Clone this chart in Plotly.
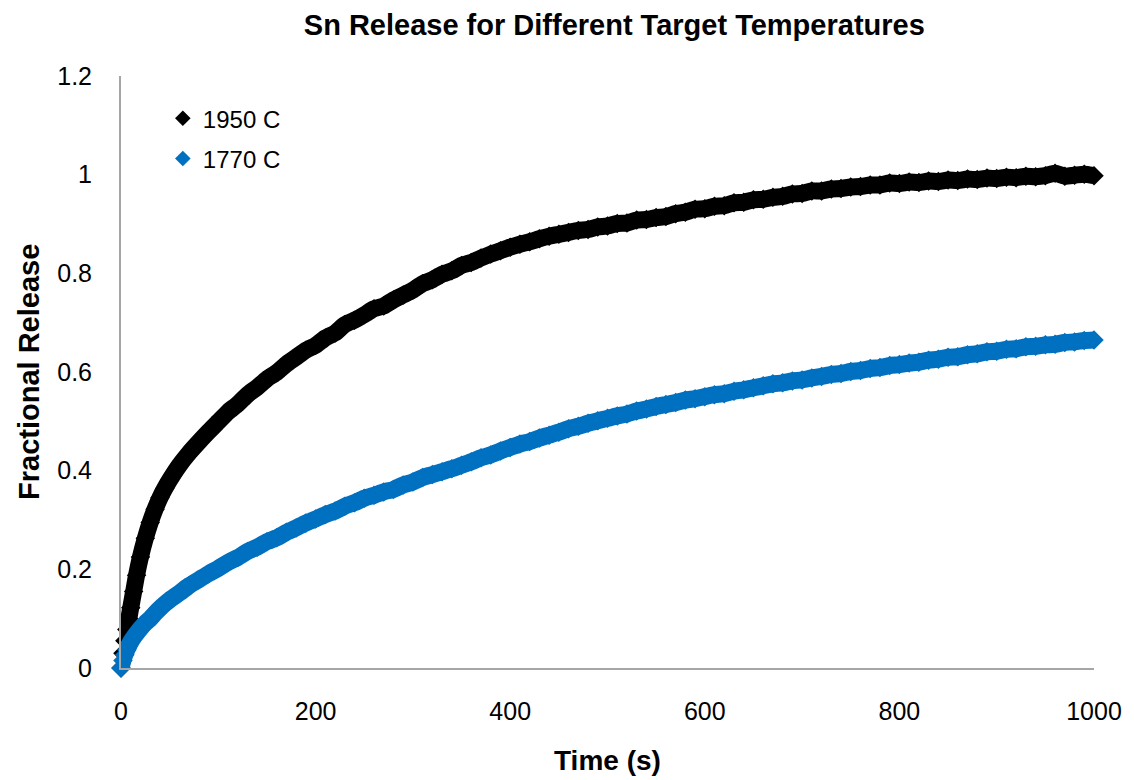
import plotly.graph_objects as go

# Time axis (s): finer sampling at the steep start, then every 10 s
time_s = [0, 2, 4, 6, 8, 10, 13, 16, 20, 25, 30, 35, 40, 45, 50] + list(range(60, 1001, 10))

# Fractional release, 1950 C
release_1950 = [
    0.000, 0.030, 0.055, 0.078, 0.100, 0.122, 0.155, 0.188, 0.225, 0.263, 0.295, 0.322, 0.345, 0.364, 0.381,
    0.411, 0.436, 0.458, 0.479, 0.499, 0.519, 0.535, 0.554, 0.569, 0.586,
    0.599, 0.616, 0.630, 0.644, 0.654, 0.669, 0.679, 0.696, 0.705, 0.716,
    0.728, 0.734, 0.746, 0.756, 0.766, 0.779, 0.787, 0.798, 0.805, 0.816,
    0.822, 0.831, 0.839, 0.846, 0.853, 0.859, 0.864, 0.870, 0.875, 0.879,
    0.883, 0.887, 0.889, 0.894, 0.896, 0.901, 0.902, 0.908, 0.909, 0.913,
    0.915, 0.921, 0.924, 0.930, 0.931, 0.936, 0.937, 0.943, 0.944, 0.949,
    0.950, 0.954, 0.956, 0.961, 0.962, 0.967, 0.967, 0.971, 0.972, 0.975,
    0.976, 0.979, 0.979, 0.983, 0.982, 0.985, 0.984, 0.987, 0.986, 0.989,
    0.988, 0.991, 0.990, 0.993, 0.992, 0.995, 0.994, 0.997, 0.996, 0.998,
    1.003, 0.997, 0.999, 1.001, 0.998,
]

# Fractional release, 1770 C
release_1770 = [
    0.000, 0.015, 0.027, 0.037, 0.045, 0.053, 0.062, 0.070, 0.080, 0.091, 0.100, 0.111, 0.121, 0.130, 0.138,
    0.152, 0.167, 0.179, 0.191, 0.202, 0.214, 0.224, 0.236, 0.245, 0.256,
    0.264, 0.275, 0.284, 0.294, 0.302, 0.311, 0.318, 0.328, 0.335, 0.344,
    0.350, 0.357, 0.362, 0.371, 0.377, 0.386, 0.392, 0.398, 0.404, 0.411,
    0.418, 0.426, 0.432, 0.440, 0.447, 0.454, 0.459, 0.466, 0.472, 0.478,
    0.485, 0.490, 0.496, 0.501, 0.506, 0.511, 0.515, 0.521, 0.525, 0.530,
    0.534, 0.538, 0.543, 0.546, 0.550, 0.554, 0.556, 0.561, 0.564, 0.568,
    0.572, 0.576, 0.578, 0.582, 0.584, 0.588, 0.591, 0.595, 0.597, 0.601,
    0.603, 0.607, 0.609, 0.613, 0.615, 0.618, 0.620, 0.624, 0.626, 0.630,
    0.631, 0.635, 0.637, 0.641, 0.642, 0.646, 0.647, 0.651, 0.652, 0.655,
    0.656, 0.660, 0.661, 0.664, 0.665,
]

series_names = ["1950 C", "1770 C"]
series_colors = ["#000000", "#0070C0"]
series_values = [release_1950, release_1770]

x_ticks = [0, 200, 400, 600, 800, 1000]
y_ticks = [0, 0.2, 0.4, 0.6, 0.8, 1, 1.2]
y_tick_labels = ["0", "0.2", "0.4", "0.6", "0.8", "1", "1.2"]

FONT = "Arial, 'Liberation Sans', sans-serif"

fig = go.Figure()
for name, color, vals in zip(series_names, series_colors, series_values):
    # thick band under the markers (the dense data forms a continuous band)
    fig.add_trace(go.Scatter(
        x=time_s, y=vals, mode="lines",
        line=dict(color=color, width=17, shape="spline", smoothing=0.6),
        showlegend=False, hoverinfo="skip", legendgroup=name,
        cliponaxis=False,
    ))
    fig.add_trace(go.Scatter(
        x=time_s, y=vals, mode="markers", name=name,
        marker=dict(symbol="diamond", size=15, color=color, line=dict(width=0)),
        legendgroup=name, cliponaxis=False,
    ))

# page body has an 8px margin, so figure is 8px smaller and shifted
W, H = 1126, 772
fig.update_layout(
    width=W, height=H,
    paper_bgcolor="white", plot_bgcolor="white",
    margin=dict(l=113, r=36, t=68, b=112),
    title=dict(
        text="<b>Sn Release for Different Target Temperatures</b>",
        x=0.507, xref="paper", xanchor="center",
        y=1 - 17 / H, yref="container", yanchor="middle",
        font=dict(family=FONT, size=29, color="#000000"),
    ),
    font=dict(family=FONT, color="#000000"),
    legend=dict(
        x=0.043, y=0.966, xanchor="left", yanchor="top",
        bgcolor="rgba(0,0,0,0)",
        font=dict(family=FONT, size=24, color="#000000"),
        traceorder="grouped", tracegroupgap=6,
        itemsizing="constant", itemwidth=30,
    ),
    showlegend=True,
    annotations=[
        dict(text="<b>Time (s)</b>", x=0.5, y=0, xref="paper", yref="paper",
             xanchor="center", yanchor="middle", yshift=-92, showarrow=False,
             font=dict(family=FONT, size=28, color="#000000")),
        dict(text="<b>Fractional Release</b>", x=0, y=0.5, xref="paper", yref="paper",
             xanchor="center", yanchor="middle", xshift=-92, textangle=-90, showarrow=False,
             font=dict(family=FONT, size=29, color="#000000")),
    ],
)

fig.update_xaxes(
    range=[0, 1000], tickvals=x_ticks, ticktext=[str(v) for v in x_ticks],
    showgrid=False, zeroline=False,
    showline=True, linecolor="#A6A6A6", linewidth=2,
    ticks="", ticklabelstandoff=20,
    tickfont=dict(family=FONT, size=25, color="#000000"),
)
fig.update_yaxes(
    range=[0, 1.2], tickvals=y_ticks, ticktext=y_tick_labels,
    showgrid=False, zeroline=False,
    showline=True, linecolor="#A6A6A6", linewidth=2,
    ticks="", ticklabelstandoff=22,
    tickfont=dict(family=FONT, size=25, color="#000000"),
)

fig.write_html("out.html")
